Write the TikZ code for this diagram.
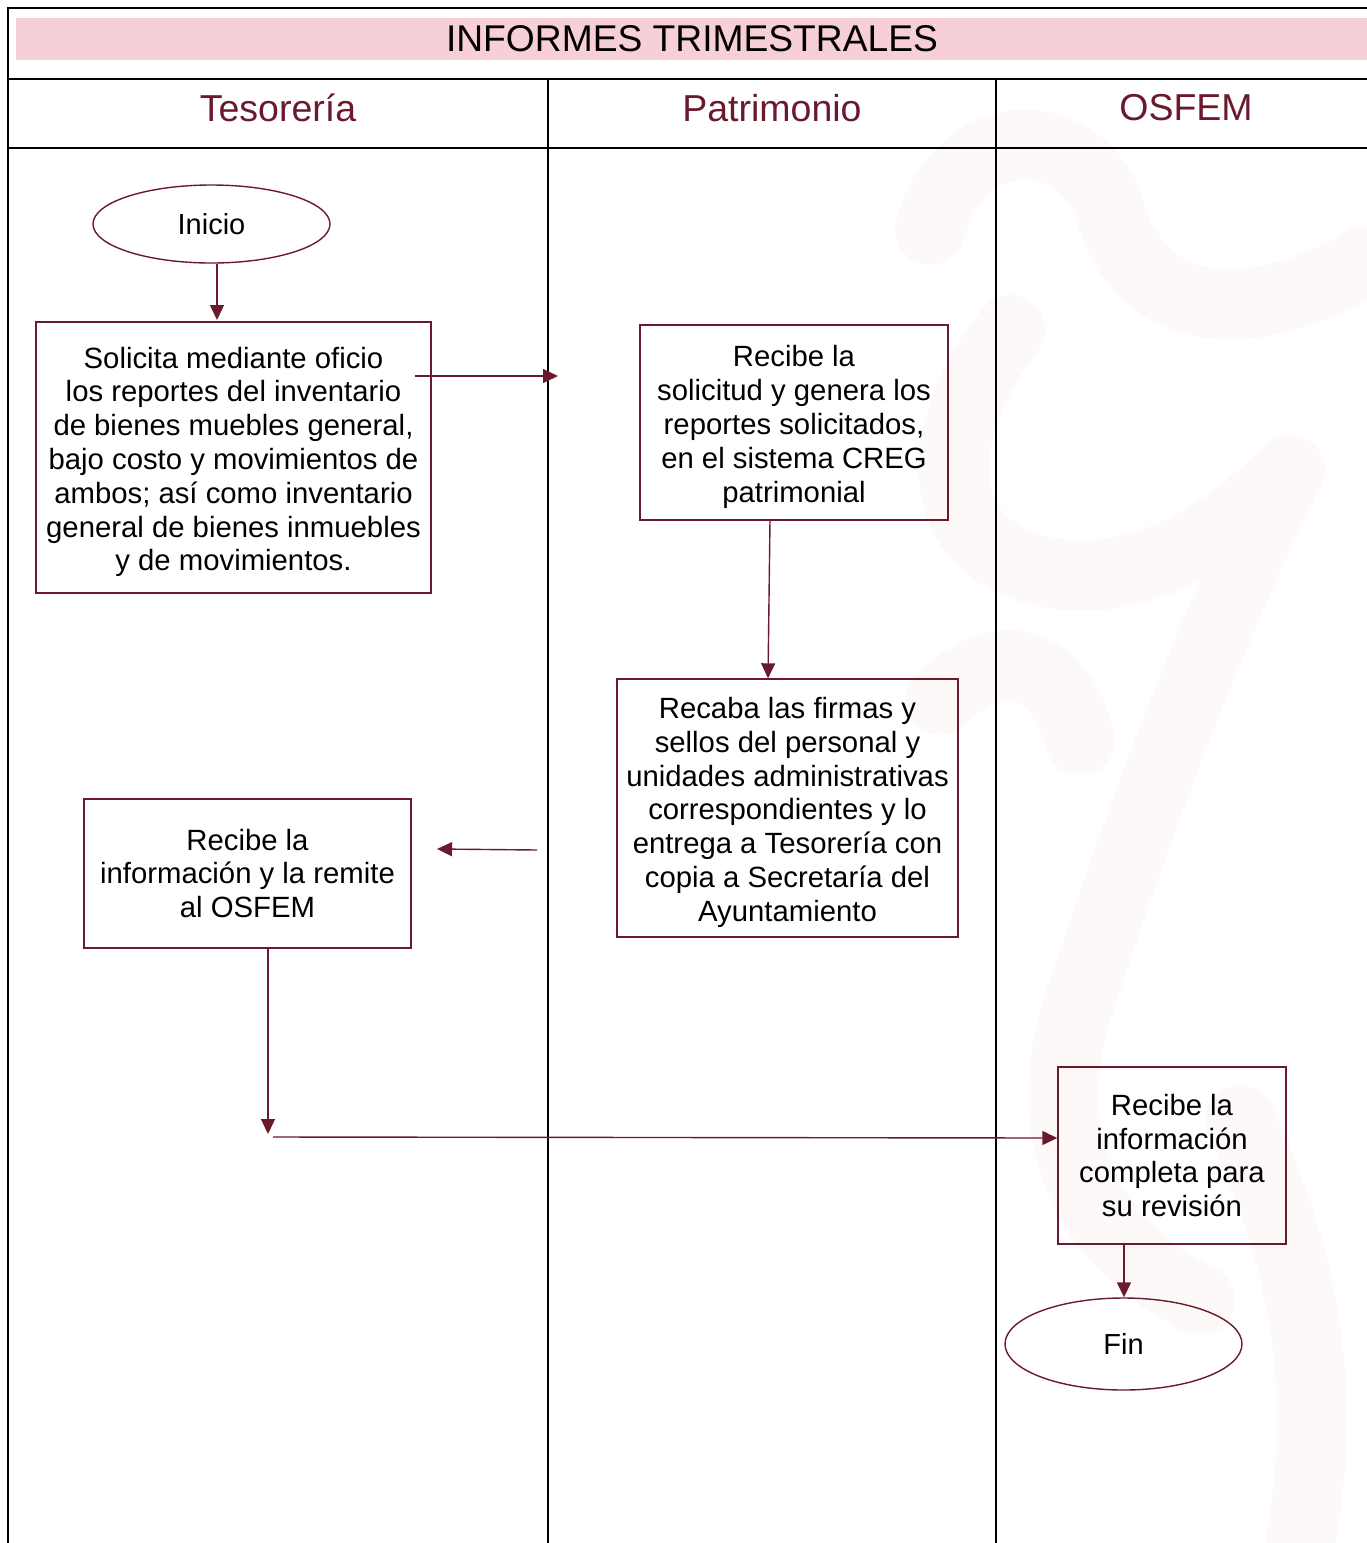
\documentclass[tikz,border=0pt]{standalone}
\usepackage{fontspec}
\setmainfont{Liberation Sans}
\usetikzlibrary{arrows.meta,shapes.geometric}
\definecolor{maroon}{HTML}{6B1A2E}
\definecolor{pinkband}{HTML}{F7CFD6}
\definecolor{wm}{HTML}{FCF9F8}
\tikzset{
  boxstyle/.style={draw=maroon,line width=1.4pt,align=center,inner sep=0pt,
     font=\fontsize{29.3}{33.8}\selectfont},
  ovalstyle/.style={ellipse,draw=maroon,line width=1.4pt,inner sep=0pt,
     font=\fontsize{29}{33.8}\selectfont},
  flow/.style={draw=maroon,line width=1.4pt,-{Triangle[length=15pt,width=14pt]}},
  lane/.style={draw=black,line width=1.2pt},
  lanehead/.style={text=maroon,font=\fontsize{37.5}{40}\selectfont,inner sep=0pt}
}
\begin{document}
\begin{tikzpicture}[x=1pt,y=-1pt]
\useasboundingbox (0,0) rectangle (1367,1543);
% faint watermark
\begin{scope}[wm,line width=70pt,line cap=round,line join=round]
\draw (930,230) .. controls (960,120) and (1080,120) .. (1110,210);
\draw (1110,210) .. controls (1140,320) and (1250,330) .. (1367,260);
\draw (1010,330) .. controls (940,420) and (930,520) .. (1010,560);
\draw (1010,560) .. controls (1100,600) and (1200,560) .. (1290,470);
\draw (940,700) .. controls (1000,640) and (1060,660) .. (1080,740);
\draw (1290,470) .. controls (1200,650) and (1130,850) .. (1080,1000);
\draw (1080,1000) .. controls (1030,1150) and (1100,1250) .. (1200,1300);
\draw (1240,1120) .. controls (1300,1250) and (1330,1380) .. (1300,1543);
\end{scope}
% frame
\fill[pinkband] (16,18) rectangle (1367,60);
\draw[lane] (8,1543) -- (8,8) -- (1367,8);
\draw[lane] (8,79) -- (1367,79);
\draw[lane] (8,148) -- (1367,148);
\draw[lane] (548,79) -- (548,1543);
\draw[lane] (996,79) -- (996,1543);
\node[font=\fontsize{37.2}{40}\selectfont,inner sep=0pt] (title) at (692,39) {INFORMES TRIMESTRALES};
\node[lanehead] (h1) at (278,108) {Tesorería};
\node[lanehead] (h2) at (772,108) {Patrimonio};
\node[lanehead] (h3) at (1186,108) {OSFEM};
% nodes
\node[ovalstyle,minimum width=237pt,minimum height=78pt] (inicio) at (211.5,224) {Inicio};
\node[boxstyle,minimum width=395pt,minimum height=271pt] (b1) at (233.5,457.5) {\rule{0pt}{30pt}Solicita mediante oficio\\los reportes del inventario\\de bienes muebles general,\\bajo costo y movimientos de\\ambos; así como inventario\\general de bienes inmuebles\\y de movimientos.};
\node[boxstyle,minimum width=308pt,minimum height=195pt] (b2) at (794,422.5) {\rule{0pt}{30pt}Recibe la\\solicitud y genera los\\reportes solicitados,\\en el sistema CREG\\patrimonial};
\node[boxstyle,minimum width=341pt,minimum height=258pt] (b3) at (787.5,808) {\rule{0pt}{30pt}Recaba las firmas y\\sellos del personal y\\unidades administrativas\\correspondientes y lo\\entrega a Tesorería con\\copia a Secretaría del\\Ayuntamiento};
\node[boxstyle,minimum width=327pt,minimum height=149pt] (b4) at (247.5,873.5) {Recibe la\\información y la remite\\al OSFEM};
\node[boxstyle,minimum width=228pt,minimum height=177pt] (b5) at (1172,1155.5) {Recibe la\\información\\completa para\\su revisión};
\node[ovalstyle,minimum width=237pt,minimum height=92pt] (fin) at (1123.5,1344) {Fin};
% connectors
\coordinate (a1s) at (415,376);
\coordinate (a1e) at (558,376);
\coordinate (a2s) at (537,850);
\coordinate (a2e) at (437,849);
\coordinate (a3e) at (268,1134);
\coordinate (a4s) at (273,1137);
\draw[flow] (inicio.south -| 217,0) -- (217,320);
\draw[flow] (a1s) -- (a1e);
\draw[flow] (b2.south -| 770,0) -- (b3.north -| 768,0);
\draw[flow] (a2s) -- (a2e);
\draw[flow] (b4.south -| 268,0) -- (a3e);
\draw[flow] (a4s) -- (b5.west |- 0,1138);
\draw[flow] (b5.south -| 1124,0) -- (fin.north -| 1124,0);
\end{tikzpicture}
\end{document}
